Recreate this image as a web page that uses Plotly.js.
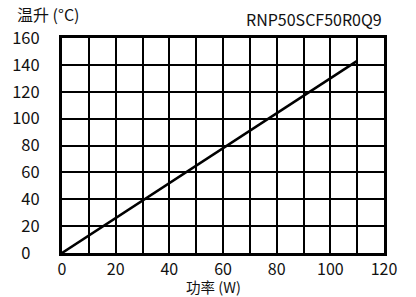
<!DOCTYPE html>
<html><head><meta charset="utf-8">
<script src="https://cdn.plot.ly/plotly-3.0.1.min.js"></script>
<style>html,body{margin:0;padding:0;background:#fff}#c{width:416px;height:297px}</style>
</head><body><div id="c"></div>
<script>
const power = [0, 110];
const tempRise = [0, 143];
const xTickVals = [0, 10, 20, 30, 40, 50, 60, 70, 80, 90, 100, 110, 120];
const xTickText = ['0', '', '20', '', '40', '', '60', '', '80', '', '100', '', '120'];
const yTickVals = [0, 20, 40, 60, 80, 100, 120, 140, 160];
const yTickText = ['0\u2007', '20', '40', '60', '80', '100', '120', '140', '160'];
const F = '"Noto Sans CJK SC", "Noto Sans", sans-serif';
const data = [{x: power, y: tempRise, mode: 'lines', line: {color: '#000', width: 2.5}, hoverinfo: 'none'}];
const layout = {
  width: 416, height: 297,
  margin: {l: 62, r: 32, t: 38, b: 44},
  paper_bgcolor: '#fff', plot_bgcolor: '#fff',
  showlegend: false,
  font: {family: F, color: '#111', size: 16.5},
  xaxis: {range: [0, 120], tickvals: xTickVals, ticktext: xTickText,
    showgrid: true, gridcolor: '#000', gridwidth: 2, zeroline: false,
    showline: true, linecolor: '#000', linewidth: 3, mirror: true, ticks: '', ticklen: 0,
    tickfont: {size: 16, family: F}, fixedrange: true},
  yaxis: {range: [0, 160], tickvals: yTickVals, ticktext: yTickText,
    showgrid: true, gridcolor: '#000', gridwidth: 2, zeroline: false,
    showline: true, linecolor: '#000', linewidth: 3, mirror: true, ticks: 'outside', ticklen: 16, tickcolor: 'rgba(0,0,0,0)',
    tickfont: {size: 16.5, family: F}, fixedrange: true},
  annotations: [
    {text: '温升 (°C)', xref: 'paper', yref: 'paper', x: -0.145, y: 1.0, xanchor: 'left', yanchor: 'middle', yshift: 24, showarrow: false, font: {size: 16, family: F}},
    {text: 'RNP50SCF50R0Q9', xref: 'paper', yref: 'paper', x: 1.0, y: 1.0, xanchor: 'right', yanchor: 'middle', yshift: 19, showarrow: false, font: {size: 16, family: F}},
    {text: '功率 (W)', xref: 'paper', yref: 'paper', x: 0.47, y: 0, xanchor: 'center', yanchor: 'middle', yshift: -33.5, showarrow: false, font: {size: 14.5, family: F}}
  ]
};
Plotly.newPlot('c', data, layout, {staticPlot: true, displayModeBar: false});
</script></body></html>
